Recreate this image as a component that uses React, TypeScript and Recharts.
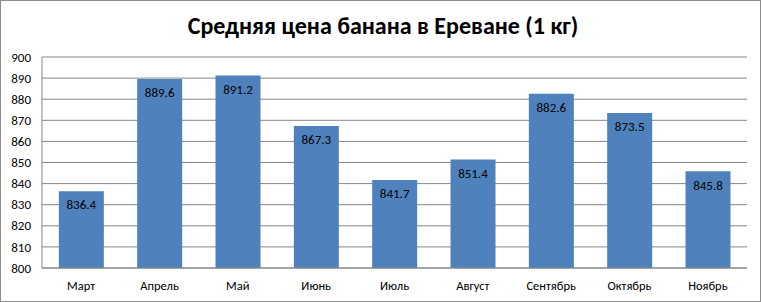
import React from 'react';
import { BarChart, Bar, XAxis, YAxis, CartesianGrid, LabelList } from 'recharts';

const months = ['Март', 'Апрель', 'Май', 'Июнь', 'Июль', 'Август', 'Сентябрь', 'Октябрь', 'Ноябрь'];
const prices = [836.4, 889.6, 891.2, 867.3, 841.7, 851.4, 882.6, 873.5, 845.8];
const yTicks = [800, 810, 820, 830, 840, 850, 860, 870, 880, 890, 900];

const data = months.map((m, i) => ({ month: m, price: prices[i] }));

const font = 'Calibri, Carlito, "Open Sans", sans-serif';
const gray = '#868686';

const App: React.FC = () => {
  return (
    <div
      style={{
        position: 'absolute',
        left: 0,
        top: 0,
        width: 761,
        height: 302,
        background: '#fff',
        fontFamily: font,
      }}
    >
      <div
        style={{
          position: 'absolute',
          left: 0,
          top: 0,
          width: 759,
          height: 300,
          border: '1px solid #8c8c8c',
        }}
      />
      <div
        style={{
          position: 'absolute',
          left: 0,
          top: 11,
          width: 766,
          textAlign: 'center',
          fontSize: 24,
          fontWeight: 'bold',
          color: '#000',
        }}
      >
        Средняя цена банана в Ереване (1 кг)
      </div>
      <BarChart
        width={761}
        height={302}
        data={data}
        margin={{ top: 57, right: 14, bottom: 0, left: 0 }}
        barCategoryGap="21.5%"
        style={{ position: 'absolute', left: 0, top: 0 }}
      >
        <CartesianGrid vertical={false} stroke={gray} strokeWidth={1} />
        <XAxis
          dataKey="month"
          height={34}
          axisLine={{ stroke: gray }}
          tickLine={false}
          tickSize={0}
          tickMargin={13}
          tick={{ fill: '#000', fontSize: 12.5, fontFamily: font }}
          interval={0}
        />
        <YAxis
          width={42}
          domain={[800, 900]}
          ticks={yTicks}
          interval={0}
          allowDataOverflow
          axisLine={{ stroke: gray }}
          tickLine={false}
          tickSize={0}
          tickMargin={11}
          tick={{ fill: '#000', fontSize: 13, fontFamily: font }}
        />
        <Bar dataKey="price" fill="#4F81BD" isAnimationActive={false}>
          <LabelList
            dataKey="price"
            position="insideTop"
            offset={9}
            fill="#000"
            fontSize={13}
            fontFamily={font}
            formatter={(v: number) => v.toFixed(1)}
          />
        </Bar>
      </BarChart>
    </div>
  );
};

export default App;
